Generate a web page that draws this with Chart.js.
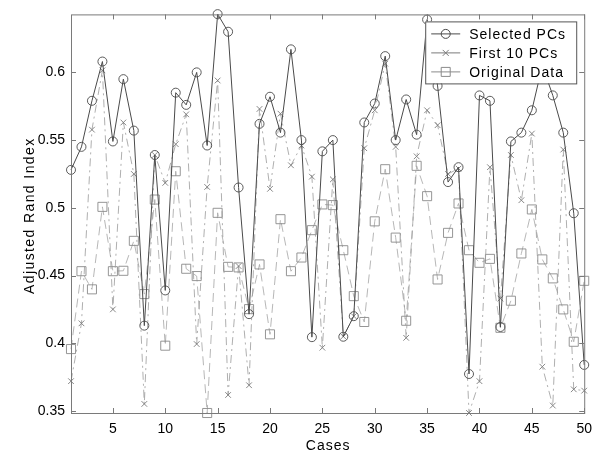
<!DOCTYPE html>
<html>
<head>
<meta charset="utf-8">
<script src="https://cdn.jsdelivr.net/npm/chart.js@4.4.0/dist/chart.umd.min.js"></script>
<style>
  html, body { margin: 0; padding: 0; background: #fff; }
  #wrap { width: 600px; height: 455px; }
</style>
</head>
<body>
<div id="wrap"><canvas id="arChart" width="600" height="455"></canvas></div>
<script>
// Datos
const cases = [1, 2, 3, 4, 5, 6, 7, 8, 9, 10, 11, 12, 13, 14, 15, 16, 17, 18, 19, 20,
  21, 22, 23, 24, 25, 26, 27, 28, 29, 30, 31, 32, 33, 34, 35, 36, 37, 38, 39, 40,
  41, 42, 43, 44, 45, 46, 47, 48, 49, 50];
const selectedPCs = [0.528, 0.545, 0.579, 0.608, 0.549, 0.595, 0.557, 0.413, 0.539, 0.439,
  0.585, 0.576, 0.600, 0.546, 0.643, 0.630, 0.515, 0.4215, 0.562, 0.582,
  0.5555, 0.617, 0.550, 0.4045, 0.5417, 0.550, 0.4048, 0.420, 0.563, 0.577,
  0.612, 0.550, 0.580, 0.554, 0.639, 0.590, 0.519, 0.530, 0.3773, 0.583,
  0.579, 0.412, 0.549, 0.5555, 0.572, 0.605, 0.583, 0.5555, 0.496, 0.384];
const first10PCs = [0.372, 0.4147, 0.5577, 0.6015, 0.425, 0.563, 0.525, 0.3552, 0.539, 0.5184,
  0.547, 0.569, 0.3994, 0.5154, 0.594, 0.3618, 0.457, 0.369, 0.573, 0.514,
  0.5695, 0.5314, 0.546, 0.523, 0.3967, 0.521, 0.405, 0.420, 0.544, 0.572,
  0.6064, 0.545, 0.404, 0.538, 0.572, 0.561, 0.525, 0.529, 0.3485, 0.372,
  0.530, 0.433, 0.539, 0.5056, 0.5548, 0.3827, 0.354, 0.543, 0.366, 0.365];
const originalData = [0.3957, 0.4532, 0.4398, 0.5007, 0.4532, 0.4535, 0.4756, 0.4363, 0.5061, 0.3982,
  0.527, 0.455, 0.4496, 0.3485, 0.4963, 0.4564, 0.456, 0.4252, 0.4582, 0.4066,
  0.4916, 0.4532, 0.4633, 0.4835, 0.5025, 0.502, 0.4687, 0.4348, 0.4157, 0.490,
  0.5285, 0.478, 0.4166, 0.531, 0.5086, 0.4471, 0.4815, 0.5032, 0.4687, 0.4594,
  0.4623, 0.4114, 0.4314, 0.4663, 0.4988, 0.4619, 0.4479, 0.425, 0.4011, 0.4461];
const xTicks = [5, 10, 15, 20, 25, 30, 35, 40, 45, 50];
const yTicks = [0.35, 0.4, 0.45, 0.5, 0.55, 0.6];
const seriesNames = ['Selected PCs', 'First 10 PCs', 'Original Data'];
const xTitle = 'Cases';
const yTitle = 'Adjusted Rand Index';

const FONT = "'Liberation Sans', Arial, Helvetica, sans-serif";
const colors = ['#4a4a4a', '#7a7a7a', '#8a8a8a'];

function toPoints(values) {
  return values.map((v, i) => ({ x: cases[i], y: v }));
}

// Marcadores estilo MATLAB para la leyenda
function drawMarker(ctx, kind, x, y) {
  ctx.beginPath();
  if (kind === 'circle') {
    ctx.arc(x, y, 4.5, 0, Math.PI * 2);
  } else if (kind === 'cross') {
    ctx.moveTo(x - 3, y - 3); ctx.lineTo(x + 3, y + 3);
    ctx.moveTo(x + 3, y - 3); ctx.lineTo(x - 3, y + 3);
  } else {
    ctx.rect(x - 4.5, y - 4.5, 9, 9);
  }
  ctx.stroke();
}

// Caja de ejes con marcas hacia dentro, títulos y leyenda dentro del área
const matlabAxes = {
  id: 'matlabAxes',
  afterDatasetsDraw(chart) {
    const { ctx, chartArea: a, scales: { x, y } } = chart;
    ctx.save();
    ctx.strokeStyle = '#7a7a7a';
    ctx.lineWidth = 1;
    ctx.strokeRect(a.left + 0.5, a.top + 0.5, a.right - a.left, a.bottom - a.top);
    ctx.beginPath();
    xTicks.forEach(v => {
      const px = Math.round(x.getPixelForValue(v)) + 0.5;
      ctx.moveTo(px, a.bottom); ctx.lineTo(px, a.bottom - 5);
      ctx.moveTo(px, a.top); ctx.lineTo(px, a.top + 5);
    });
    yTicks.forEach(v => {
      const py = Math.round(y.getPixelForValue(v)) + 0.5;
      ctx.moveTo(a.left, py); ctx.lineTo(a.left + 5, py);
      ctx.moveTo(a.right, py); ctx.lineTo(a.right - 5, py);
    });
    ctx.stroke();

    // títulos de ejes (MATLAB los dibuja algo espaciados)
    ctx.font = '14px ' + FONT;
    ctx.fillStyle = '#000';
    ctx.textAlign = 'center';
    ctx.textBaseline = 'middle';
    ctx.letterSpacing = '1px';
    ctx.fillText(xTitle, (a.left + a.right) / 2 + 0.5, 446);
    ctx.save();
    ctx.translate(30, (a.top + a.bottom) / 2 + 2);
    ctx.rotate(-Math.PI / 2);
    ctx.letterSpacing = '1.4px';
    ctx.fillText(yTitle, 0, 0);
    ctx.restore();

    // leyenda
    const bx = a.right - 159, by = a.top + 7, bw = 151, bh = 62;
    ctx.fillStyle = '#fff';
    ctx.fillRect(bx, by, bw, bh);
    ctx.strokeStyle = '#555';
    ctx.strokeRect(bx + 0.5, by + 0.5, bw, bh);
    const kinds = ['circle', 'cross', 'rect'];
    ctx.textAlign = 'left';
    ctx.letterSpacing = '1px';
    seriesNames.forEach((name, i) => {
      const ry = by + 12.5 + i * 19;
      ctx.strokeStyle = colors[i];
      ctx.beginPath();
      ctx.moveTo(bx + 6, ry); ctx.lineTo(bx + 35, ry);
      ctx.stroke();
      drawMarker(ctx, kinds[i], bx + 20.5, ry);
      ctx.fillStyle = '#000';
      ctx.fillText(name, bx + 44, ry + 1);
    });
    ctx.restore();
  }
};

const ctx = document.getElementById('arChart').getContext('2d');
const arChart = new Chart(ctx, {
  type: 'line',
  data: {
    datasets: [
      {
        label: seriesNames[0],
        data: toPoints(selectedPCs),
        borderColor: colors[0],
        borderWidth: 1,
        pointStyle: 'circle',
        pointRadius: 4.5,
        pointBorderWidth: 0.9,
        pointBorderColor: colors[0],
        pointBackgroundColor: 'rgba(0,0,0,0)',
        tension: 0,
        clip: false
      },
      {
        label: seriesNames[1],
        data: toPoints(first10PCs),
        borderColor: '#9a9a9a',
        borderWidth: 0.8,
        borderDash: [8, 4, 2, 4],
        pointStyle: 'crossRot',
        pointRadius: 4,
        pointBorderWidth: 0.9,
        pointBorderColor: colors[1],
        pointBackgroundColor: 'rgba(0,0,0,0)',
        tension: 0,
        clip: false
      },
      {
        label: seriesNames[2],
        data: toPoints(originalData),
        borderColor: '#a5a5a5',
        borderWidth: 0.8,
        borderDash: [9, 5],
        pointStyle: 'rect',
        pointRadius: 6.4,
        pointBorderWidth: 0.9,
        pointBorderColor: colors[2],
        pointBackgroundColor: 'rgba(0,0,0,0)',
        tension: 0,
        clip: false
      }
    ]
  },
  options: {
    responsive: false,
    animation: false,
    layout: { padding: { left: 0, right: 14, top: 14, bottom: 0 } },
    plugins: {
      legend: { display: false },
      tooltip: { enabled: false },
      title: { display: false }
    },
    scales: {
      x: {
        type: 'linear',
        min: 1,
        max: 50,
        grid: { display: false, drawTicks: false },
        border: { display: false },
        afterBuildTicks: scale => { scale.ticks = xTicks.map(v => ({ value: v })); },
        afterFit: scale => { scale.height = 42; },
        ticks: {
          color: '#000',
          font: { family: FONT, size: 14 },
          padding: 8,
          maxRotation: 0
        }
      },
      y: {
        type: 'linear',
        min: 0.3485,
        max: 0.6428,
        grid: { display: false, drawTicks: false },
        border: { display: false },
        afterBuildTicks: scale => { scale.ticks = yTicks.map(v => ({ value: v })); },
        afterFit: scale => { scale.width = 71; },
        ticks: {
          color: '#000',
          font: { family: FONT, size: 14 },
          padding: 6,
          callback: v => String(Math.round(v * 100) / 100)
        }
      }
    }
  },
  plugins: [matlabAxes]
});
</script>
</body>
</html>
